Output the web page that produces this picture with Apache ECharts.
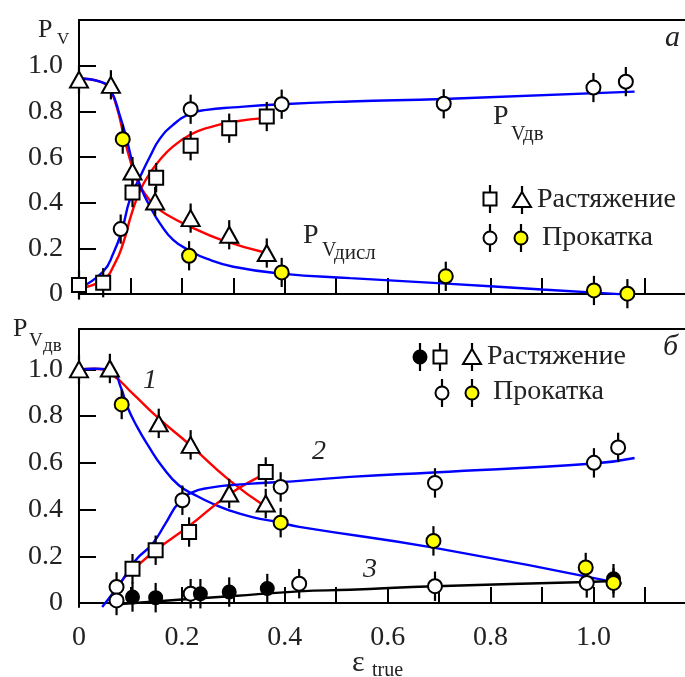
<!DOCTYPE html>
<html><head><meta charset="utf-8">
<script src="https://cdn.jsdelivr.net/npm/echarts@6/dist/echarts.min.js"></script>
<style>html,body{margin:0;padding:0;background:#fff}#c{width:685px;height:677px}</style>
</head><body><div id="c"></div>
<script>
// ===== Panel а (top) =====
const topSqX  = [0, 0.047, 0.104, 0.15, 0.217, 0.292, 0.365];
const topSqY  = [0.04, 0.05, 0.445, 0.51, 0.65, 0.727, 0.778];
const topTriX = [0, 0.062, 0.104, 0.148, 0.217, 0.292, 0.365];
const topTriY = [0.94, 0.917, 0.537, 0.406, 0.333, 0.26, 0.18];
const topOcX  = [0.081, 0.217, 0.394, 0.709, 1.0, 1.063];
const topOcY  = [0.285, 0.81, 0.832, 0.834, 0.905, 0.931];
const topYcX  = [0.085, 0.214, 0.394, 0.713, 1.001, 1.066];
const topYcY  = [0.679, 0.168, 0.095, 0.078, 0.016, 0.002];
const topErr  = 0.064;
// fitted curves
const topBlueUpX = [0, 0.047, 0.067, 0.083, 0.099, 0.119, 0.138, 0.157, 0.183, 0.216, 0.248, 0.3, 0.394, 0.527, 0.708, 1.08];
const topBlueUpY = [0.025, 0.099, 0.18, 0.275, 0.415, 0.515, 0.603, 0.68, 0.742, 0.79, 0.807, 0.818, 0.832, 0.844, 0.855, 0.887];
const topRedUpX  = [0, 0.047, 0.07, 0.086, 0.102, 0.119, 0.138, 0.157, 0.183, 0.216, 0.248, 0.3, 0.365];
const topRedUpY  = [0.025, 0.063, 0.136, 0.224, 0.35, 0.455, 0.53, 0.588, 0.647, 0.698, 0.727, 0.755, 0.772];
const topRedDnX  = [0, 0.041, 0.06, 0.073, 0.086, 0.099, 0.115, 0.132, 0.151, 0.177, 0.216, 0.274, 0.365];
const topRedDnY  = [0.945, 0.931, 0.895, 0.822, 0.705, 0.59, 0.49, 0.428, 0.38, 0.34, 0.296, 0.24, 0.18];
const topBlueDnX = [0, 0.041, 0.06, 0.08, 0.093, 0.106, 0.122, 0.138, 0.157, 0.183, 0.216, 0.248, 0.3, 0.394, 0.527, 0.714, 0.9, 1.05];
const topBlueDnY = [0.945, 0.931, 0.9, 0.778, 0.676, 0.559, 0.457, 0.384, 0.311, 0.238, 0.19, 0.155, 0.12, 0.09, 0.07, 0.046, 0.02, 0.0];

// ===== Panel б (bottom) =====
const botTriX = [0, 0.06, 0.155, 0.217, 0.292, 0.363];
const botTriY = [1.0, 1.004, 0.769, 0.677, 0.469, 0.426];
const botYcX  = [0.083, 0.392, 0.689, 0.985, 1.039];
const botYcY  = [0.85, 0.344, 0.266, 0.152, 0.086];
const botSqX  = [0.104, 0.149, 0.214, 0.363];
const botSqY  = [0.147, 0.226, 0.304, 0.561];
const botOc2X = [0.073, 0.201, 0.392, 0.692, 1.001, 1.048];
const botOc2Y = [0.069, 0.44, 0.497, 0.514, 0.60, 0.666];
const botOc3X = [0.073, 0.217, 0.428, 0.692, 0.987];
const botOc3Y = [0.011, 0.04, 0.083, 0.072, 0.086];
const botBkX  = [0.104, 0.149, 0.236, 0.292, 0.366, 1.039];
const botBkY  = [0.026, 0.023, 0.04, 0.047, 0.062, 0.104];
const botErr  = 0.063;
// curves
const c1RedX  = [0, 0.03, 0.065, 0.104, 0.155, 0.214, 0.292, 0.363];
const c1RedY  = [1.0, 1.003, 0.976, 0.897, 0.79, 0.68, 0.526, 0.412];
const c1BlueX = [0, 0.03, 0.065, 0.081, 0.094, 0.113, 0.136, 0.162, 0.194, 0.227, 0.259, 0.292, 0.337, 0.389, 0.428, 0.689, 1.055];
const c1BlueY = [1.0, 1.003, 0.99, 0.925, 0.84, 0.754, 0.668, 0.583, 0.504, 0.461, 0.426, 0.397, 0.368, 0.345, 0.326, 0.237, 0.083];
const c2RedX  = [0.065, 0.084, 0.104, 0.149, 0.214, 0.292, 0.363];
const c2RedY  = [0.012, 0.097, 0.14, 0.226, 0.33, 0.465, 0.554];
const c2BlueX = [0.045, 0.065, 0.084, 0.11, 0.143, 0.168, 0.194, 0.22, 0.259, 0.292, 0.356, 0.428, 0.527, 0.689, 1.0, 1.08];
const c2BlueY = [-0.017, 0.04, 0.097, 0.183, 0.254, 0.34, 0.43, 0.474, 0.495, 0.504, 0.514, 0.523, 0.54, 0.559, 0.597, 0.621];
const c3X     = [0.075, 0.2, 0.3, 0.428, 0.527, 0.692, 0.987, 1.039];
const c3Y     = [-0.005, 0.015, 0.03, 0.05, 0.057, 0.072, 0.09, 0.094];

const yTicks = [0, 0.2, 0.4, 0.6, 0.8, 1.0];
const xMinorTicks = [0.1, 0.2, 0.3, 0.4, 0.5, 0.6, 0.7, 0.8, 0.9, 1.0, 1.1];
const xLabels = [0, 0.2, 0.4, 0.6, 0.8, 1.0];

// ===== build =====
const FONT = '"Liberation Serif","Times New Roman",serif';
const BLUE = '#0000ff', RED = '#ff0000', YEL = '#ffff00';
const pts = (xs, ys) => xs.map((x, i) => [x, ys[i]]);
const fmt = v => (Math.abs(v) < 1e-9 ? '0' : v.toFixed(1));

function line(xs, ys, color, g) {
  return { type: 'line', xAxisIndex: g * 2, yAxisIndex: g, data: pts(xs, ys), smooth: 0.5,
    showSymbol: false, symbol: 'none', lineStyle: { color, width: 2.4 }, z: 2, silent: true, clip: false };
}
function scat(xs, ys, symbol, size, fill, g) {
  return { type: 'scatter', xAxisIndex: g * 2, yAxisIndex: g, data: pts(xs, ys), symbol, symbolSize: size,
    itemStyle: { color: fill, borderColor: '#000', borderWidth: 2, opacity: 1 }, z: 5, silent: true };
}
function errs(xs, ys, e, g) {
  return { type: 'custom', xAxisIndex: g * 2, yAxisIndex: g, data: xs.map((x, i) => [x, ys[i], e]), z: 4, silent: true, clip: false,
    renderItem: (p, api) => {
      const x = api.value(0), y = api.value(1), d = api.value(2);
      const a = api.coord([x, y - d]), b = api.coord([x, y + d]);
      return { type: 'line', shape: { x1: a[0], y1: a[1], x2: b[0], y2: b[1] }, style: { stroke: '#000', lineWidth: 2.2 } };
    } };
}

const axLine = { show: true, lineStyle: { color: '#000', width: 2 } };
function xBottom(g, labels) {
  return { type: 'value', gridIndex: g, position: 'bottom', min: 0, max: 1.178,
    axisLine: axLine, splitLine: { show: false },
    axisTick: { show: true, inside: true, length: 16, lineStyle: { color: '#000', width: 2 }, customValues: xMinorTicks },
    axisLabel: labels ? { show: true, customValues: xLabels, formatter: fmt, margin: 17, fontSize: 28, fontFamily: FONT, color: '#222' } : { show: false } };
}
function xTop(g) {
  return { type: 'value', gridIndex: g, position: 'top', min: 0, max: 1.178, axisLine: axLine,
    axisTick: { show: false }, axisLabel: { show: false }, splitLine: { show: false } };
}
function yAx(g, min, max) {
  return { type: 'value', gridIndex: g, min, max, axisLine: { show: true, onZero: false, lineStyle: { color: '#000', width: 2 } },
    splitLine: { show: false },
    axisTick: { show: true, inside: true, length: 17, lineStyle: { color: '#000', width: 2 }, customValues: [0.2, 0.4, 0.6, 0.8, 1.0] },
    axisLabel: { show: true, customValues: yTicks, formatter: fmt, margin: 16, fontSize: 28, fontFamily: FONT, color: '#222' } };
}

const series = [
  // top
  line(topBlueUpX, topBlueUpY, BLUE, 0), line(topRedUpX, topRedUpY, RED, 0),
  line(topRedDnX, topRedDnY, RED, 0), line(topBlueDnX, topBlueDnY, BLUE, 0),
  errs(topSqX, topSqY, topErr, 0), errs(topTriX, topTriY, topErr, 0), errs(topOcX, topOcY, topErr, 0), errs(topYcX, topYcY, topErr, 0),
  scat(topSqX, topSqY, 'rect', 14, '#fff', 0), scat(topTriX, topTriY, 'triangle', [18, 16], '#fff', 0),
  scat(topOcX, topOcY, 'circle', 14, '#fff', 0), scat(topYcX, topYcY, 'circle', 14, YEL, 0),
  // bottom
  line(c1RedX, c1RedY, RED, 1), line(c1BlueX, c1BlueY, BLUE, 1), line(c2RedX, c2RedY, RED, 1), line(c2BlueX, c2BlueY, BLUE, 1),
  line(c3X, c3Y, '#000', 1),
  errs(botTriX, botTriY, botErr, 1), errs(botYcX, botYcY, botErr, 1), errs(botSqX, botSqY, botErr, 1),
  errs(botOc2X, botOc2Y, botErr, 1), errs(botOc3X, botOc3Y, botErr, 1), errs(botBkX, botBkY, botErr, 1),
  scat(botTriX, botTriY, 'triangle', [18, 16], '#fff', 1), scat(botSqX, botSqY, 'rect', 14, '#fff', 1),
  scat(botOc2X, botOc2Y, 'circle', 14, '#fff', 1), scat(botOc3X, botOc3Y, 'circle', 14, '#fff', 1),
  scat(botBkX, botBkY, 'circle', 13, '#000', 1), scat(botYcX, botYcY, 'circle', 14, YEL, 1)
];

// ---- text & legend graphics ----
function txt(s, x, y, size, opts) {
  opts = opts || {};
  return { type: 'text', z: 10, style: { text: s, x, y, fill: '#222', align: opts.align || 'left', verticalAlign: 'middle',
    font: (opts.italic ? 'italic ' : '') + size + 'px ' + FONT } };
}
function icon(kind, cx, cy, fill) {
  const out = [{ type: 'line', z: 11, shape: { x1: cx, y1: cy - 14, x2: cx, y2: cy + 14 }, style: { stroke: '#000', lineWidth: 2.2 } }];
  const st = { fill: fill || '#fff', stroke: '#000', lineWidth: 2 };
  if (kind === 'rect') out.push({ type: 'rect', z: 12, shape: { x: cx - 6.5, y: cy - 6.5, width: 13, height: 13 }, style: st });
  if (kind === 'tri') out.push({ type: 'polygon', z: 12, shape: { points: [[cx, cy - 8], [cx + 9, cy + 7], [cx - 9, cy + 7]] }, style: st });
  if (kind === 'circle') out.push({ type: 'circle', z: 12, shape: { cx, cy, r: 6.5 }, style: st });
  return out;
}
const graphics = [
  // axis names
  txt('P', 38, 30, 26), txt('V', 57, 40, 17),
  txt('P', 13, 329, 26), txt('V', 29, 341, 19), txt('дв', 43, 346, 19),
  // in-plot labels, top
  txt('а', 665, 38, 30, { italic: true }),
  txt('P', 493, 117, 28), txt('V', 511, 135, 20), txt('дв', 523, 134, 21),
  txt('P', 303, 236, 28), txt('V', 322, 251, 20), txt('дисл', 334, 253, 21),
  txt('Растяжение', 537, 200, 28), txt('Прокатка', 542, 238, 28),
  ...icon('rect', 490, 199), ...icon('tri', 522, 200), ...icon('circle', 490, 238), ...icon('circle', 521, 238, YEL),
  // bottom
  txt('б', 663, 347, 30, { italic: true }),
  txt('1', 143, 381, 28, { italic: true }), txt('2', 312, 452, 28, { italic: true }), txt('3', 363, 570, 28, { italic: true }),
  txt('Растяжение', 487, 357, 28), txt('Прокатка', 493, 392, 28),
  ...icon('circle', 420, 357, '#000'), ...icon('rect', 440, 357), ...icon('tri', 472, 357),
  ...icon('circle', 442, 393), ...icon('circle', 472, 393, YEL),
  // x-axis name
  txt('ε', 352, 663, 30), txt('true', 372, 671, 20)
];

const option = {
  backgroundColor: '#fff',
  animation: false,
  grid: [
    { left: 79, top: 20, width: 606, height: 278 },
    { left: 79, top: 329, width: 606, height: 278 }
  ],
  xAxis: [xBottom(0, false), xTop(0), xBottom(1, true), xTop(1)],
  yAxis: [yAx(0, -0.017, 1.201), yAx(1, -0.017, 1.173)],
  series,
  graphic: graphics
};
const chart = echarts.init(document.getElementById('c'), null, { renderer: 'canvas' });
chart.setOption(option);
</script></body></html>
